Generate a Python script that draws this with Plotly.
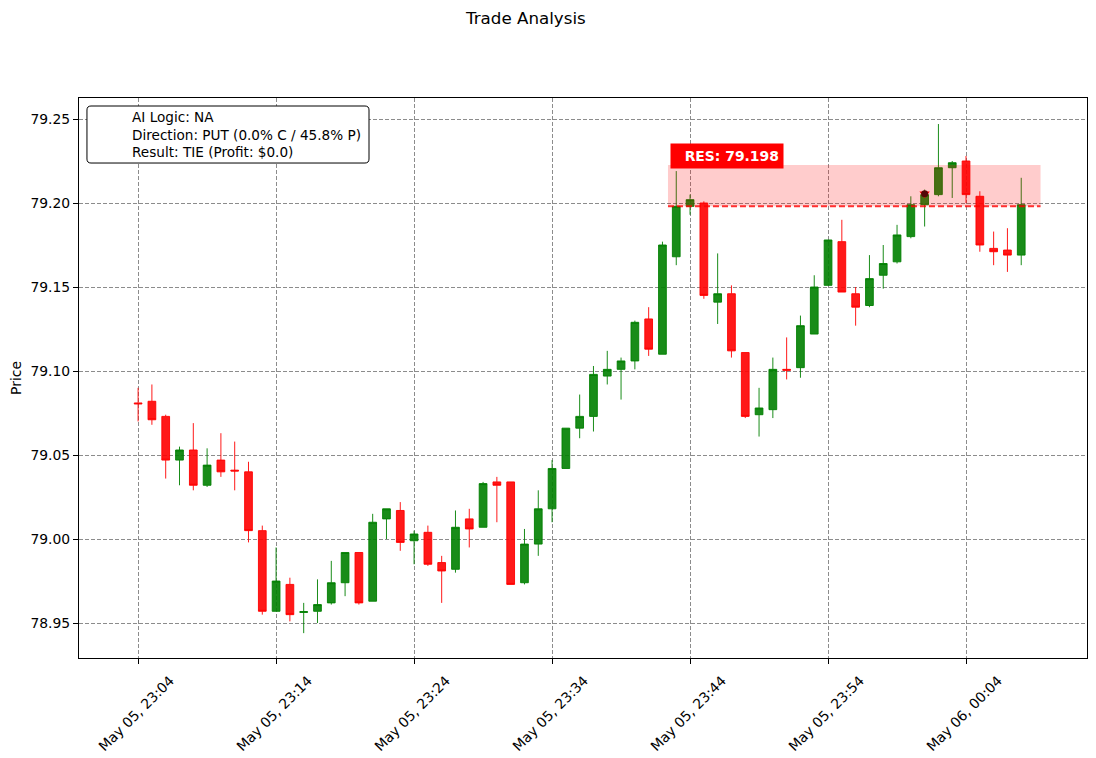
import plotly.graph_objects as go

# velas de 1 minuto, 23:04 -> 00:08
times = [f"2025-05-05 23:{m:02d}" for m in range(4, 60)] + [f"2025-05-06 00:{m:02d}" for m in range(0, 9)]

opens = [79.081, 79.082, 79.073, 79.047, 79.053, 79.032, 79.047, 79.041, 79.040, 79.005,
         78.957, 78.973, 78.9563, 78.957, 78.962, 78.974, 78.992, 78.963, 79.012, 79.017,
         78.999, 79.004, 78.986, 78.982, 79.012, 79.007, 79.034, 79.034, 78.974, 78.997,
         79.018, 79.042, 79.066, 79.073, 79.097, 79.101, 79.106, 79.131, 79.110, 79.168,
         79.198, 79.200, 79.141, 79.146, 79.111, 79.074, 79.077, 79.101, 79.102, 79.122,
         79.151, 79.177, 79.146, 79.139, 79.157, 79.165, 79.180, 79.199, 79.205, 79.221,
         79.225, 79.204, 79.173, 79.172, 79.169]
highs = [79.090, 79.092, 79.074, 79.055, 79.069, 79.054, 79.063, 79.058, 79.046, 79.008,
         78.995, 78.977, 78.962, 78.976, 78.987, 78.992, 78.992, 79.015, 79.018, 79.022,
         79.005, 79.008, 78.990, 79.017, 79.018, 79.034, 79.037, 79.034, 79.006, 79.029,
         79.047, 79.066, 79.086, 79.103, 79.112, 79.108, 79.130, 79.138, 79.177, 79.219,
         79.205, 79.201, 79.170, 79.151, 79.111, 79.090, 79.108, 79.120, 79.133, 79.157,
         79.178, 79.190, 79.150, 79.169, 79.175, 79.187, 79.204, 79.208, 79.247, 79.225,
         79.228, 79.207, 79.183, 79.185, 79.215]
lows = [79.070, 79.068, 79.036, 79.032, 79.029, 79.031, 79.037, 79.029, 78.998, 78.955,
        78.957, 78.951, 78.944, 78.950, 78.961, 78.966, 78.961, 78.963, 79.000, 78.993,
        78.985, 78.984, 78.962, 78.980, 78.995, 79.007, 79.010, 78.973, 78.973, 78.990,
        79.010, 79.042, 79.060, 79.064, 79.092, 79.083, 79.101, 79.109, 79.110, 79.163,
        79.193, 79.143, 79.128, 79.108, 79.072, 79.061, 79.072, 79.095, 79.096, 79.122,
        79.151, 79.147, 79.127, 79.138, 79.149, 79.164, 79.179, 79.186, 79.204, 79.203,
        79.200, 79.171, 79.163, 79.159, 79.163]
closes = [79.0805, 79.071, 79.047, 79.053, 79.032, 79.044, 79.040, 79.0405, 79.005, 78.957,
          78.975, 78.955, 78.9568, 78.961, 78.974, 78.992, 78.962, 79.010, 79.018, 78.998,
          79.003, 78.985, 78.981, 79.007, 79.006, 79.033, 79.032, 78.973, 78.997, 79.018,
          79.042, 79.066, 79.073, 79.098, 79.101, 79.106, 79.129, 79.113, 79.175, 79.198,
          79.202, 79.145, 79.146, 79.112, 79.073, 79.078, 79.101, 79.1005, 79.127, 79.150,
          79.178, 79.147, 79.138, 79.155, 79.164, 79.181, 79.199, 79.205, 79.221, 79.224,
          79.205, 79.175, 79.171, 79.169, 79.199]

# resistencia e zona
res_level = 79.198
res_zone_top = 79.2226
res_start = "2025-05-05 23:42:24"
res_end = "2025-05-06 00:09:24"

entry_time = "2025-05-06 00:01"
entry_price = 79.2055

info_lines = ["AI Logic: NA",
              "Direction: PUT (0.0% C / 45.8% P)",
              "Result: TIE (Profit: $0.0)"]

tick_start = "2025-05-05 23:04"
x_range = ["2025-05-05 22:59:43", "2025-05-06 00:12:46"]
y_ticks = [78.95, 79.00, 79.05, 79.10, 79.15, 79.20, 79.25]

GREEN = "rgba(0,128,0,0.9)"
RED = "rgba(255,0,0,0.9)"
FONT = "DejaVu Sans"
FS = 13.9

fig = go.Figure()

fig.add_trace(go.Candlestick(
    x=times, open=opens, high=highs, low=lows, close=closes,
    increasing=dict(line=dict(color=GREEN, width=1), fillcolor=GREEN),
    decreasing=dict(line=dict(color=RED, width=1), fillcolor=RED),
    whiskerwidth=0, showlegend=False,
))

fig.add_trace(go.Scatter(
    x=[entry_time], y=[entry_price], mode="markers",
    marker=dict(symbol="triangle-down", size=9, color="red"),
    showlegend=False,
))
fig.add_trace(go.Scatter(
    x=[entry_time], y=[entry_price], mode="markers",
    marker=dict(symbol="circle", size=7, color="#2a0a0a"),
    showlegend=False,
))

# zona de resistencia (por cima das velas)
fig.add_shape(type="rect", xref="x", yref="y", x0=res_start, x1=res_end,
              y0=res_level, y1=res_zone_top, fillcolor="rgba(255,0,0,0.2)",
              line=dict(width=0), layer="above")
fig.add_shape(type="line", xref="x", yref="y", x0=res_start, x1=res_end,
              y0=res_level, y1=res_level, line=dict(color="rgba(255,0,0,0.8)", width=2, dash="6px,3px"),
              layer="above")

fig.add_annotation(x=res_start, y=res_zone_top, xref="x", yref="y",
                   xanchor="left", yanchor="bottom", yshift=-4, xshift=2,
                   text=f"<b>&nbsp;&nbsp;RES: {res_level:.3f}</b>", showarrow=False,
                   font=dict(family=FONT, size=FS, color="white"),
                   bgcolor="red", borderpad=4)

# caixa de info (cantos arredondados)
x0, x1, y0, y1 = 0.0079, 0.2877, 0.8839, 0.9857
rx, ry = 0.004, 0.0071
box_path = (f"M {x0+rx},{y0} L {x1-rx},{y0} Q {x1},{y0} {x1},{y0+ry} "
            f"L {x1},{y1-ry} Q {x1},{y1} {x1-rx},{y1} L {x0+rx},{y1} "
            f"Q {x0},{y1} {x0},{y1-ry} L {x0},{y0+ry} Q {x0},{y0} {x0+rx},{y0} Z")
fig.add_shape(type="path", xref="paper", yref="paper", path=box_path,
              fillcolor="white", line=dict(color="black", width=1), layer="above")
fig.add_annotation(x=0.0506, y=0.9348, xref="paper", yref="paper",
                   xanchor="left", yanchor="middle", align="left", showarrow=False,
                   text="<br>".join(info_lines),
                   font=dict(family=FONT, size=13.6, color="black"))

# a pagina tem margem de ~8px, por isso a figura fica 8px menor
fig.update_layout(
    width=1088, height=750,
    margin=dict(l=71, r=9, t=90, b=100),
    paper_bgcolor="white", plot_bgcolor="white",
    font=dict(family=FONT, size=FS, color="black"),
    title=dict(text="Trade Analysis", x=0.476, xref="container", xanchor="center",
               y=0.9867, yref="container", yanchor="middle",
               font=dict(family=FONT, size=16.7, color="black")),
    boxgap=0.2,
    hovermode=False,
)

fig.update_xaxes(
    type="date", range=x_range, rangeslider=dict(visible=False), automargin=False,
    tick0=tick_start, dtick=600000, tickformat="%b %d, %H:%M", tickangle=-45,
    ticklabelshift=32, ticklabelstandoff=3,
    ticks="outside", ticklen=5, tickcolor="black",
    showline=True, mirror=True, linecolor="black", linewidth=1,
    showgrid=True, gridcolor="rgba(128,128,128,0.9)", griddash="4px,2px", gridwidth=1,
    zeroline=False,
)
fig.update_yaxes(
    range=[78.9292, 79.2625], tickvals=y_ticks, tickformat=".2f", automargin=False,
    ticks="outside", ticklen=5, tickcolor="black",
    showline=True, mirror=True, linecolor="black", linewidth=1,
    showgrid=True, gridcolor="rgba(128,128,128,0.9)", griddash="4px,2px", gridwidth=1,
    zeroline=False,
    title=dict(text="Price", standoff=8, font=dict(family=FONT, size=FS)),
)

fig.write_html("out.html")
